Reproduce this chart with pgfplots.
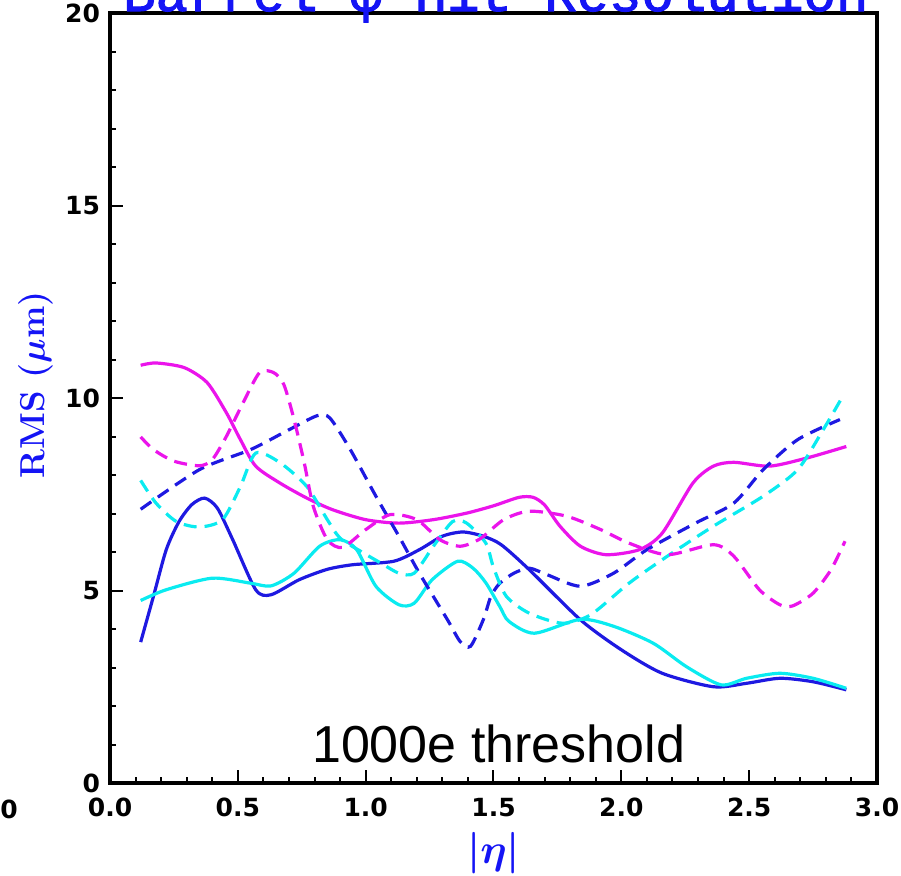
\documentclass[border=0pt]{standalone}
\usepackage{pgfplots}
\pgfplotsset{compat=1.18}
\usepackage{fontspec}
\newfontfamily\tickfont{DejaVu Sans}
\newfontfamily\titlefont{Liberation Mono}[FakeBold=2]
\newfontfamily\annfont{Liberation Sans}
\definecolor{cBlue}{RGB}{30,25,225}
\definecolor{cCyan}{RGB}{10,235,240}
\definecolor{cMag}{RGB}{235,20,235}
\definecolor{tBlue}{RGB}{20,20,245}
\begin{document}
\begin{tikzpicture}
\begin{axis}[
  at={(0,0)}, anchor=south west,
  scale only axis, width=383.5pt, height=385pt,
  xmin=0, xmax=3, ymin=0, ymax=20,
  xtick={0,0.5,1,1.5,2,2.5,3}, ytick={0,5,10,15,20},
  minor x tick num=4, minor y tick num=4,
  tick pos=left, tick align=inside,
  major tick length=6.5pt, minor tick length=3pt,
  major tick style={black, line width=1pt},
  minor tick style={black, line width=1pt},
  axis line style={line width=2pt},
  /pgf/number format/assume math mode=true,
  x tick label style={/pgf/number format/.cd, fixed, fixed zerofill, precision=1, /tikz/.cd},
  tick label style={font=\tickfont\bfseries\fontsize{12.5}{13}\selectfont},
  xticklabel style={anchor=north, yshift=-4pt},
  yticklabel style={anchor=east, xshift=-1.5pt},
  title={Barrel φ Hit Resolution},
  title style={font=\titlefont\fontsize{27}{30}\selectfont, text=tBlue, at={(axis description cs:0.503,1)}, anchor=base, yshift=-5pt, inner sep=0pt},
  xlabel={$|\eta|$},
  xlabel style={font=\boldmath\huge, text=tBlue, at={(axis description cs:0.5,-0.105)}, anchor=base, inner sep=0pt},
  ylabel={RMS ($\mu$m)},
  ylabel style={font=\boldmath\bfseries\LARGE, text=tBlue, at={(axis description cs:-0.0965,0.517)}, anchor=center, inner sep=0pt},
  every axis plot/.append style={line width=1.6pt, smooth, tension=0.45},
  clip=false,
]
% solid blue
\addplot[cBlue] coordinates {(0.12,3.66) (0.17,4.85) (0.22,6.06) (0.27,6.79) (0.32,7.23) (0.37,7.40) (0.42,7.14) (0.48,6.32) (0.57,5.02) (0.63,4.89) (0.74,5.28) (0.85,5.55) (0.95,5.67) (1.11,5.76) (1.21,6.06) (1.30,6.41) (1.38,6.52) (1.46,6.41) (1.53,6.19) (1.64,5.54) (1.84,4.24) (2.00,3.46) (2.16,2.85) (2.36,2.50) (2.49,2.59) (2.62,2.72) (2.75,2.63) (2.88,2.42)};
% solid cyan
\addplot[cCyan] coordinates {(0.12,4.74) (0.22,5.02) (0.40,5.32) (0.55,5.19) (0.63,5.12) (0.72,5.45) (0.82,6.15) (0.90,6.32) (0.965,6.06) (1.04,5.11) (1.13,4.63) (1.19,4.67) (1.26,5.28) (1.36,5.76) (1.42,5.58) (1.47,5.20) (1.525,4.58) (1.56,4.20) (1.66,3.89) (1.84,4.25) (1.97,4.07) (2.125,3.63) (2.255,3.02) (2.39,2.55) (2.49,2.72) (2.62,2.85) (2.75,2.72) (2.88,2.46)};
% solid magenta
\addplot[cMag] coordinates {(0.12,10.85) (0.18,10.91) (0.29,10.79) (0.38,10.40) (0.455,9.62) (0.51,8.92) (0.57,8.23) (0.665,7.79) (0.77,7.40) (0.87,7.10) (1.00,6.84) (1.13,6.75) (1.265,6.84) (1.395,7.01) (1.50,7.20) (1.60,7.42) (1.655,7.42) (1.70,7.22) (1.76,6.67) (1.84,6.15) (1.94,5.93) (2.07,6.06) (2.16,6.49) (2.28,7.79) (2.36,8.23) (2.44,8.33) (2.58,8.23) (2.725,8.44) (2.88,8.74)};
% dashed blue
\addplot[cBlue, dash pattern=on 6.5pt off 4pt] coordinates {(0.12,7.11) (0.35,8.14) (0.55,8.66) (0.69,9.14) (0.81,9.54) (0.86,9.48) (0.94,8.66) (1.04,7.45) (1.13,6.41) (1.21,5.45) (1.32,4.24) (1.37,3.67) (1.41,3.55) (1.46,4.24) (1.49,4.85) (1.525,5.19) (1.58,5.45) (1.64,5.58) (1.71,5.41) (1.84,5.11) (1.97,5.45) (2.10,6.06) (2.29,6.75) (2.44,7.27) (2.555,8.14) (2.69,8.92) (2.855,9.44)};
% dashed cyan
\addplot[cCyan, dash pattern=on 6.5pt off 4pt] coordinates {(0.12,7.86) (0.18,7.27) (0.26,6.79) (0.35,6.65) (0.44,6.84) (0.51,7.70) (0.57,8.57) (0.665,8.32) (0.77,7.70) (0.85,6.84) (0.90,6.36) (0.98,6.02) (1.06,5.71) (1.13,5.45) (1.19,5.45) (1.265,6.15) (1.34,6.79) (1.395,6.75) (1.47,6.23) (1.50,5.60) (1.55,4.85) (1.64,4.41) (1.77,4.15) (1.88,4.37) (2.03,5.19) (2.18,5.89) (2.36,6.67) (2.555,7.45) (2.69,8.14) (2.79,9.18) (2.87,10.09)};
% dashed magenta
\addplot[cMag, dash pattern=on 6.5pt off 4pt] coordinates {(0.12,8.99) (0.17,8.66) (0.25,8.36) (0.35,8.24) (0.40,8.40) (0.455,9.00) (0.52,9.87) (0.585,10.66) (0.64,10.66) (0.68,10.35) (0.72,9.44) (0.76,8.31) (0.795,7.19) (0.85,6.32) (0.91,6.12) (1.00,6.58) (1.095,6.97) (1.20,6.84) (1.29,6.32) (1.37,6.15) (1.447,6.34) (1.54,6.84) (1.64,7.06) (1.786,6.93) (1.92,6.58) (2.03,6.23) (2.18,5.93) (2.36,6.19) (2.44,5.89) (2.54,5.02) (2.62,4.63) (2.67,4.60) (2.75,4.93) (2.82,5.54) (2.875,6.28)};
\node[font=\annfont\fontsize{26}{30}\selectfont, anchor=base, inner sep=0pt] at (axis cs:1.52,0.52) {1000e threshold};
\end{axis}
\node[anchor=north west, inner sep=0pt, font=\tickfont\bfseries\fontsize{12.5}{13}\selectfont] at (-55pt,-8.5pt) {0};
\pgfresetboundingbox
\path[use as bounding box] (-55pt,-46pt) rectangle (395.5pt,391.5pt);
\end{tikzpicture}
\end{document}
